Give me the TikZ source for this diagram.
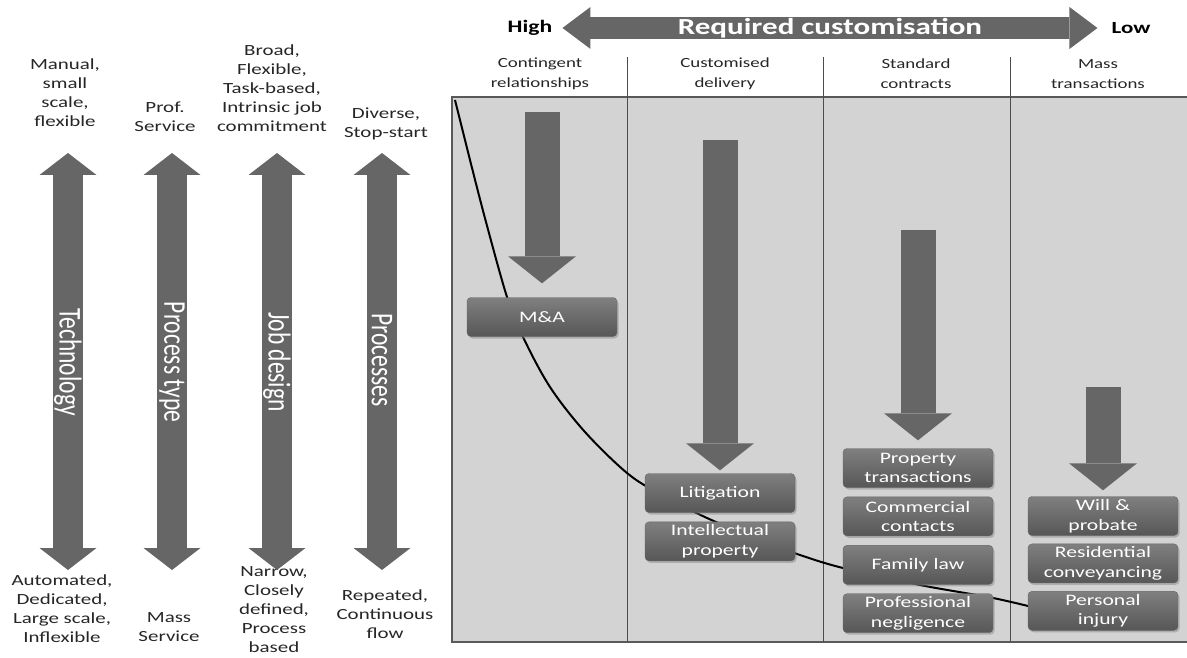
\documentclass[tikz,border=0pt]{standalone}
\usepackage{fontspec}
\setmainfont{Carlito}[FakeStretch=1.35]
\newfontfamily\rotfont{Carlito}
\usepackage{tikz}
\usetikzlibrary{arrows.meta,positioning,shadows,calc}
\tikzset{>=latex}
\definecolor{arrowgray}{HTML}{666666}
\definecolor{panelgray}{HTML}{D3D3D3}
\tikzset{
  side/.style={align=center, inner sep=0pt, text=black!85, font=\fontsize{15.5}{19}\selectfont},
  colhead/.style={align=center, inner sep=0pt, text=black!85, font=\fontsize{14}{20}\selectfont},
  area/.style={rounded corners=4pt, top color=black!50, bottom color=black!66, draw=black!60,
    minimum width=150pt, minimum height=39pt, text width=146pt, align=center, inner sep=0pt,
    text=white, font=\fontsize{16}{19.5}\selectfont,
    drop shadow={opacity=.45, shadow xshift=1.5pt, shadow yshift=-2pt}},
  axislabel/.style={rotate=-90, text=white, inner sep=0pt, font={\rotfont\fontsize{23.5}{28}\selectfont}},
  bigdown/.style={arrowgray, line width=35pt, -{Triangle[width=68pt,length=27pt,line width=0pt]}},
  scaleaxis/.style={arrowgray, line width=30pt,
    {Triangle[width=57pt,length=22pt,line width=0pt]}-{Triangle[width=57pt,length=22pt,line width=0pt]}},
  custarrow/.style={arrowgray, line width=22pt,
    {Triangle[width=42pt,length=28pt,line width=0pt]}-{Triangle[width=42pt,length=28pt,line width=0pt]}},
}

\begin{document}
\begin{tikzpicture}[x=1pt,y=-1pt]
\useasboundingbox (0,0) rectangle (1187,658);

% panel with the four kinds of work
\draw[fill=panelgray, draw=black!65, line width=2.5pt] (452,97) rectangle (1195,642);
\draw[black!70, line width=0.8pt] (627,57) -- (627,642);
\draw[black!70, line width=0.8pt] (823,57) -- (823,642);
\draw[black!70, line width=0.8pt] (1010,57) -- (1010,642);

\node[colhead] (h1) at (540,74) {Contingent\\relationships};
\node[colhead] (h2) at (725,74) {Customised\\delivery};
\node[colhead] (h3) at (916,74) {Standard\\contracts};
\node[colhead] (h4) at (1098,74) {Mass\\transactions};

% customisation banner
\node[inner sep=0pt, font=\bfseries\fontsize{17.5}{20}\selectfont] (high) at (530,28) {High};
\node[inner sep=0pt, font=\bfseries\fontsize{17}{20}\selectfont] (low) at (1131,28) {Low};
\draw[custarrow] ([xshift=10pt]high.east) -- ([xshift=-14pt]low.west)
  node[midway, text=white, font=\bfseries\fontsize{23}{26}\selectfont] {Required customisation};

% curve
\draw[line width=2pt] plot[smooth, tension=0.55] coordinates {(455,100) (470,160) (486,222) (507,297)
  (523,337) (550,387) (585,432) (627,473) (660,494) (707,518) (760,540) (800,555) (843,568)
  (920,585) (993,598) (1040,609)};

% work types
\node[area] (ma) at (542,317) {M\&A};
\node[area] (lit) at (720,493) {Litigation};
\node[area, below=9pt of lit] (ip) {Intellectual\\property};
\node[area] (pt) at (918,468) {Property\\transactions};
\node[area, below=9pt of pt] (cc) {Commercial\\contacts};
\node[area, below=9pt of cc] (fl) {Family law};
\node[area, below=9pt of fl] (pn) {Professional\\negligence};
\node[area] (wp) at (1103,516) {Will \&\\probate};
\node[area, below=8pt of wp] (rc) {Residential\\conveyancing};
\node[area, below=8pt of rc] (pi) {Personal\\injury};

\coordinate (d1) at (542,112);
\coordinate (d2) at (720,140);
\coordinate (d3) at (918,230);
\coordinate (d4) at (1103,387);
\draw[bigdown] (d1) -- ([yshift=14pt]ma.north);
\draw[bigdown] (d2) -- ([yshift=3pt]lit.north);
\draw[bigdown] (d3) -- ([yshift=8pt]pt.north);
\draw[bigdown] (d4) -- ([yshift=6pt]wp.north);

% left hand scales
\node[side] (t1) at (65,93) {Manual,\\small\\scale,\\flexible};
\node[side] (t2) at (165,117) {Prof.\\Service};
\node[side] (t3) at (272,88) {Broad,\\Flexible,\\Task-based,\\Intrinsic job\\commitment};
\node[side] (t4) at (386,124) {Diverse,\\Stop-start};
\node[side] (b1) at (62,609) {Automated,\\Dedicated,\\Large scale,\\Inflexible};
\node[side] (b2) at (169,627) {Mass\\Service};
\node[side] (b3) at (274,610) {Narrow,\\Closely\\defined,\\Process\\based};
\node[side] (b4) at (385,614) {Repeated,\\Continuous\\flow};

\coordinate (a1t) at (68,153);  \coordinate (a1b) at (68,570);
\coordinate (a2t) at (172,153); \coordinate (a2b) at (172,570);
\coordinate (a3t) at (277,153); \coordinate (a3b) at (277,570);
\coordinate (a4t) at (382,153); \coordinate (a4b) at (382,570);
\draw[scaleaxis] (a1t) -- (a1b);
\draw[scaleaxis] (a2t) -- (a2b);
\draw[scaleaxis] (a3t) -- (a3b);
\draw[scaleaxis] (a4t) -- (a4b);

\node[axislabel] (l1) at (68,362) {\scalebox{1}[1.35]{Technology}};
\node[axislabel] (l2) at (172,362) {\scalebox{1}[1.35]{Process type}};
\node[axislabel] (l3) at (277,362) {\scalebox{1}[1.35]{Job design}};
\node[axislabel] (l4) at (382,360) {\scalebox{1}[1.35]{Processes}};
%\draw[help lines] (0,0) grid (1187,658);
\end{tikzpicture}
\end{document}
